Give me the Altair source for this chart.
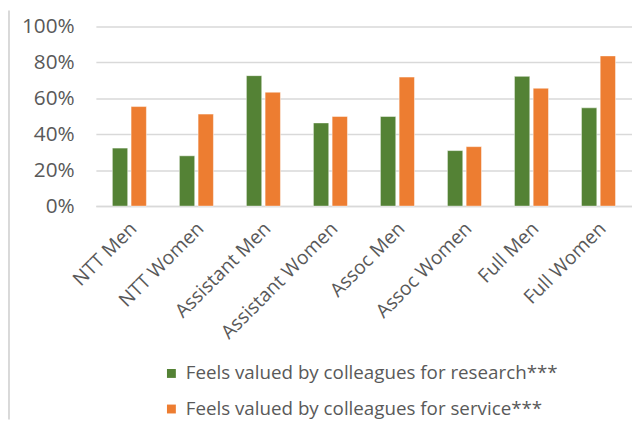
import altair as alt
import pandas as pd

categories = ["NTT Men", "NTT Women", "Assistant Men", "Assistant Women",
              "Assoc Men", "Assoc Women", "Full Men", "Full Women"]
research = [0.323, 0.280, 0.726, 0.463, 0.499, 0.309, 0.722, 0.547]
service = [0.554, 0.512, 0.634, 0.499, 0.718, 0.331, 0.656, 0.836]
series_names = ["Feels valued by colleagues for research***",
                "Feels valued by colleagues for service***"]
colors = ["#548235", "#ED7D31"]

rows = []
for c, r, s in zip(categories, research, service):
    rows.append({"cat": c, "series": series_names[0], "value": r})
    rows.append({"cat": c, "series": series_names[1], "value": s})
df = pd.DataFrame(rows)

FONT = "Open Sans"
GREY = "#595959"

bars = alt.Chart(df).mark_bar(stroke="white", strokeWidth=0.8, strokeOpacity=0.6).encode(
    x=alt.X("cat:N", sort=categories, title=None,
            scale=alt.Scale(paddingInner=0, paddingOuter=0),
            axis=alt.Axis(labelAngle=-45, labelFontSize=19.5, labelColor=GREY,
                          labelFont=FONT, ticks=False, domainColor="#d9d9d9",
                          domainWidth=1.5, labelPadding=13, labelOffset=-2)),
    xOffset=alt.XOffset("series:N", sort=series_names,
                        scale=alt.Scale(paddingInner=0.18, paddingOuter=0.88)),
    y=alt.Y("value:Q", title=None,
            scale=alt.Scale(domain=[0, 1]),
            axis=alt.Axis(values=[0, 0.2, 0.4, 0.6, 0.8, 1.0], format=".0%",
                          labelFontSize=21, labelColor=GREY, labelFont=FONT,
                          ticks=False, domain=False, gridColor="#d9d9d9",
                          gridWidth=1.5, labelPadding=22)),
    color=alt.Color("series:N", sort=series_names,
                    scale=alt.Scale(domain=series_names, range=colors),
                    legend=alt.Legend(title=None, orient="none", legendX=67, legendY=342,
                                      direction="vertical", symbolType="square",
                                      symbolSize=81, symbolStrokeWidth=0,
                                      labelFontSize=19, labelFont=FONT, labelColor=GREY,
                                      rowPadding=16, labelOffset=5, labelLimit=600)),
)

border = alt.Chart(pd.DataFrame({"v": [0]})).mark_rule(color="#d9d9d9", strokeWidth=2).encode(
    x=alt.value(-88), y=alt.value(-16), y2=alt.value(398)
)

chart = alt.layer(bars, border).properties(
    width=543, height=182,
    padding={"left": 89, "top": 16, "right": 0, "bottom": 216},
    autosize=alt.AutoSizeParams(type="none"),
).configure_view(stroke=None)

chart.save("out.html", embed_options={"renderer": "svg", "actions": False})
